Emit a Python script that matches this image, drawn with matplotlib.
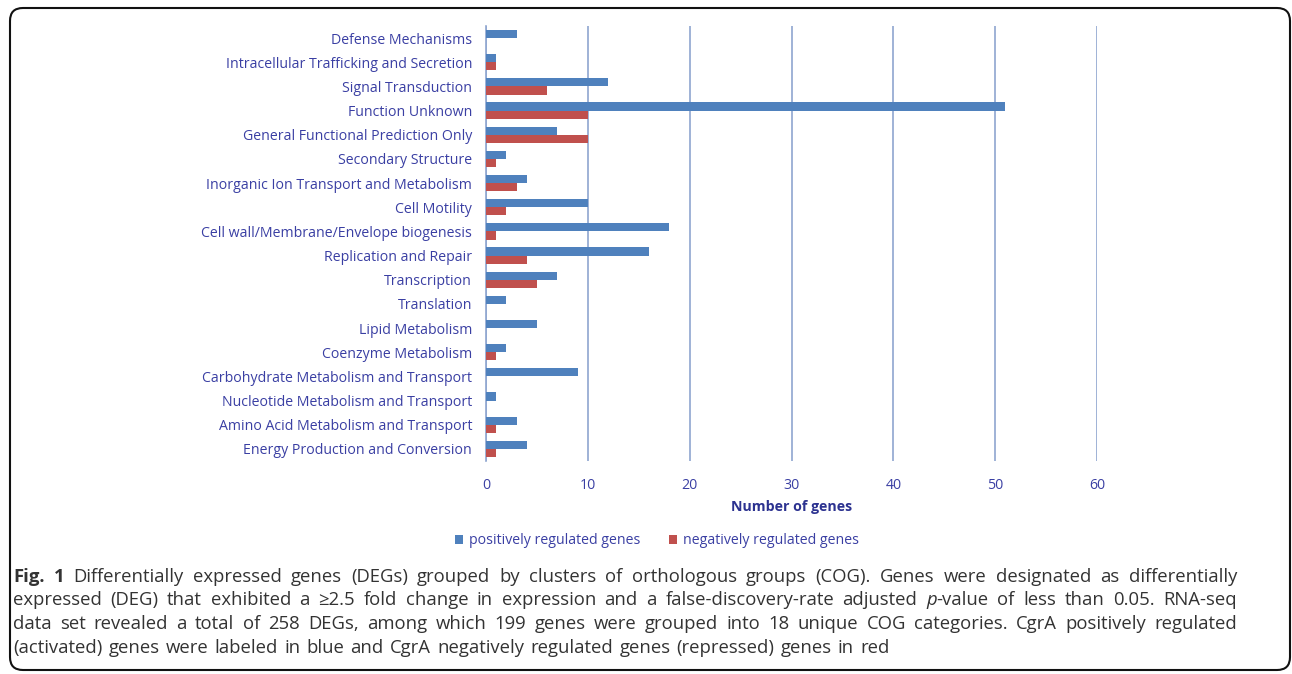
import numpy as np
import matplotlib.pyplot as plt
from matplotlib.patches import FancyBboxPatch

categories = ['Defense Mechanisms', 'Intracellular Trafficking and Secretion', 'Signal Transduction',
              'Function Unknown', 'General Functional Prediction Only', 'Secondary Structure',
              'Inorganic Ion Transport and Metabolism', 'Cell Motility',
              'Cell wall/Membrane/Envelope biogenesis', 'Replication and Repair', 'Transcription',
              'Translation', 'Lipid Metabolism', 'Coenzyme Metabolism',
              'Carbohydrate Metabolism and Transport', 'Nucleotide Metabolism and Transport',
              'Amino Acid Metabolism and Transport', 'Energy Production and Conversion']
positive = [3, 1, 12, 51, 7, 2, 4, 10, 18, 16, 7, 2, 5, 2, 9, 1, 3, 4]
negative = [0, 1, 6, 10, 10, 1, 3, 2, 1, 4, 5, 0, 0, 1, 0, 0, 1, 1]
xticks = [0, 10, 20, 30, 40, 50, 60]

caption_lines = [
    "Differentially expressed genes (DEGs) grouped by clusters of orthologous groups (COG). Genes were designated as differentially",
    "expressed (DEG) that exhibited a \u22652.5 fold change in expression and a false-discovery-rate adjusted p-value of less than 0.05. RNA-seq",
    "data set revealed a total of 258 DEGs, among which 199 genes were grouped into 18 unique COG categories. CgrA positively regulated",
    "(activated) genes were labeled in blue and CgrA negatively regulated genes (repressed) genes in red",
]

W, H = 1292, 674
label_col = '#3a3fa3'
grid_col = '#8fa6d0'
blue = '#4f81bd'
red = '#c0504d'
font = 'Open Sans'
lab_size = 10.2

fig = plt.figure(figsize=(W / 100, H / 100), dpi=100)
ax = fig.add_axes([486 / W, 1 - 461 / H, 611 / W, 435 / H])

y = np.arange(len(categories))
h = 0.34
ax.barh(y - h / 2, positive, height=h, color=blue, label='positively regulated genes', zorder=3)
ax.barh(y + h / 2, negative, height=h, color=red, label='negatively regulated genes', zorder=3)
ax.set_ylim(len(categories) - 0.5, -0.5)
ax.set_xlim(0, 60)
ax.set_xticks(xticks)
ax.set_yticks(y)
ax.set_yticklabels(categories)
for lab in ax.get_yticklabels() + ax.get_xticklabels():
    lab.set_fontfamily(font)
    lab.set_fontsize(lab_size)
    lab.set_color(label_col)
ax.tick_params(length=0)
ax.tick_params(axis='y', pad=10)
ax.tick_params(axis='x', pad=12)
for s in ['top', 'right', 'bottom']:
    ax.spines[s].set_visible(False)
ax.spines['left'].set_color(grid_col)
ax.spines['left'].set_linewidth(1.2)
ax.xaxis.grid(True, color=grid_col, linewidth=1.2, zorder=0)
ax.set_xlabel('Number of genes', fontfamily=font, fontsize=lab_size, fontweight='bold',
              color='#2c3290', labelpad=5)

fig.legend(loc='center', bbox_to_anchor=(657 / W, 1 - 541 / H), ncol=2, frameon=False,
           prop={'family': font, 'size': lab_size}, labelcolor=label_col, handlelength=0.6,
           handleheight=0.6, handletextpad=0.4, columnspacing=2.0)

# rounded border
fig.patches.append(FancyBboxPatch((10 / W, 4 / H), 1280 / W, 1 - 12 / H,
                                  boxstyle='round,pad=0,rounding_size=0.01',
                                  mutation_aspect=W / H, transform=fig.transFigure,
                                  fill=False, edgecolor='#111111', linewidth=1.5))

# caption, justified
fig.canvas.draw()
r = fig.canvas.get_renderer()
cap_size = 13.3
cap_col = '#333333'
x_left, x_right = 13, 1237
line_y = [577, 600, 624, 648]


def width_of(t):
    return t.get_window_extent(renderer=r).width


sp_a = fig.text(0, 0, 'a a', fontfamily=font, fontsize=cap_size, alpha=0)
sp_b = fig.text(0, 0, 'aa', fontfamily=font, fontsize=cap_size, alpha=0)
sp = width_of(sp_a) - width_of(sp_b)
sp_a.remove()
sp_b.remove()

for i, line in enumerate(caption_lines):
    yy = 1 - line_y[i] / H
    words = line.split(' ')
    if i == 0:
        words = ['Fig.', '1'] + words
    arts = []
    for j, w in enumerate(words):
        kw = dict(fontfamily=font, fontsize=cap_size, color=cap_col, va='center', ha='left')
        if i == 0 and j < 2:
            kw['fontweight'] = 'bold'
        if w == 'p-value':
            t1 = fig.text(0, yy, 'p', fontstyle='italic', **kw)
            t2 = fig.text(0, yy, '-value', **kw)
            arts.append([t1, t2])
        else:
            arts.append([fig.text(0, yy, w, **kw)])
    widths = [sum(width_of(t) for t in a) for a in arts]
    if i < len(caption_lines) - 1:
        gap = (x_right - x_left - sum(widths)) / (len(arts) - 1)
    else:
        gap = sp * 1.3
    x = x_left
    for a, wd in zip(arts, widths):
        xx = x
        for t in a:
            t.set_x(xx / W)
            xx += width_of(t)
        x += wd + gap

fig.savefig('out.png', dpi=100)
